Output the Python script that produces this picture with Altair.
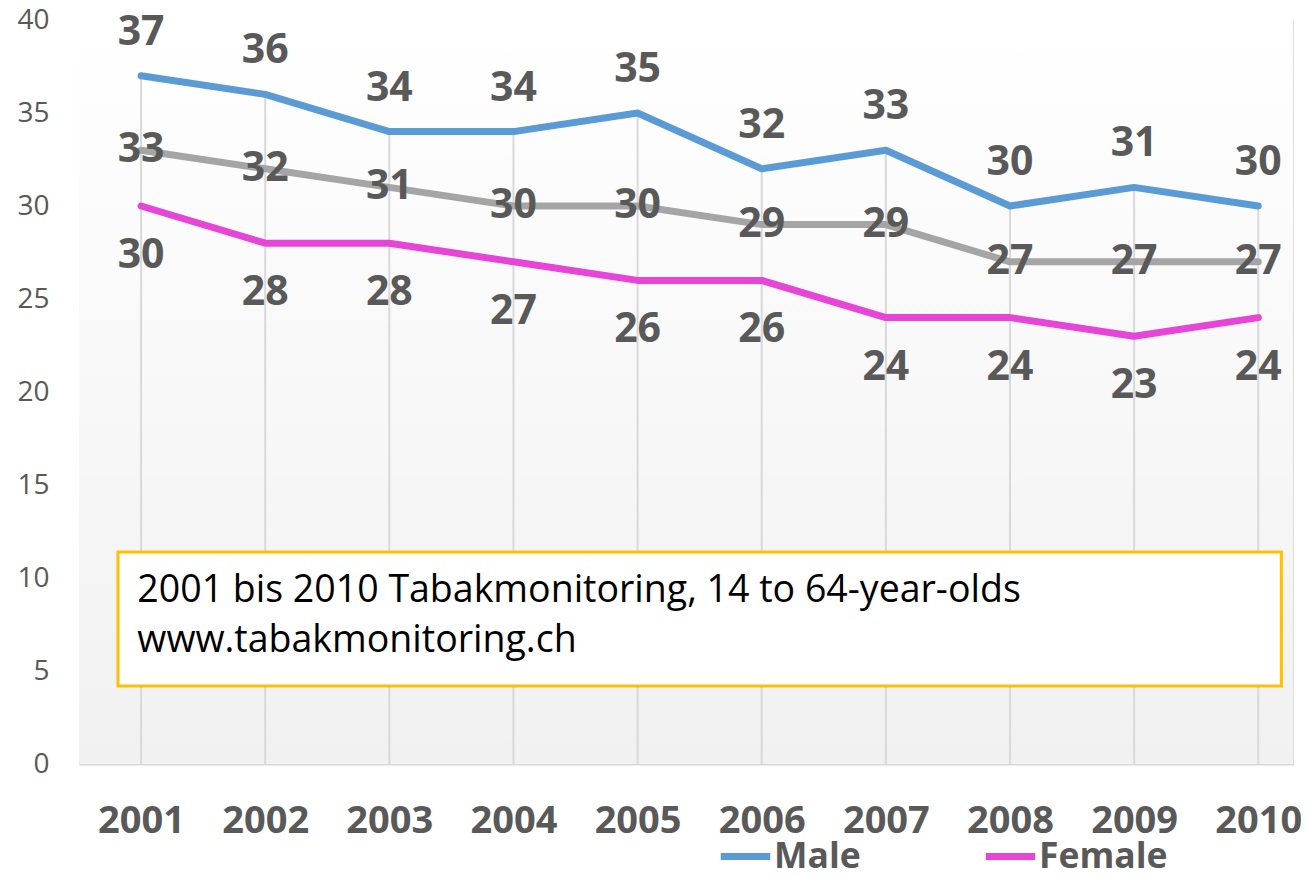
import altair as alt
import pandas as pd

years = [2001, 2002, 2003, 2004, 2005, 2006, 2007, 2008, 2009, 2010]
male = [37, 36, 34, 34, 35, 32, 33, 30, 31, 30]
total = [33, 32, 31, 30, 30, 29, 29, 27, 27, 27]
female = [30, 28, 28, 27, 26, 26, 24, 24, 23, 24]
y_ticks = [0, 5, 10, 15, 20, 25, 30, 35, 40]
note_lines = ["2001 bis 2010 Tabakmonitoring, 14 to 64-year-olds", "www.tabakmonitoring.ch"]

series_names = ["Male", "Female", "Total"]
series_colors = ["#5B9BD5", "#E645D8", "#A5A5A5"]

rows = []
for name, vals in [("Total", total), ("Female", female), ("Male", male)]:
    for yr, v in zip(years, vals):
        rows.append({"year": yr, "value": v, "series": name})
df = pd.DataFrame(rows)

drop = pd.DataFrame({"year": years, "top": [max(a, b, c) for a, b, c in zip(male, total, female)]})

W, H = 1214, 744
XMIN, XMAX = 2000.5, 2010.28

xs = alt.Scale(domain=[XMIN, XMAX], nice=False, zero=False)
ys = alt.Scale(domain=[0, 40], nice=False)

bg = alt.Chart(pd.DataFrame({"k": [0]})).mark_rect(
    fill=alt.Gradient(gradient="linear", x1=0, x2=0, y1=0, y2=1,
                      stops=[alt.GradientStop(color="#ffffff", offset=0),
                             alt.GradientStop(color="#f1f1f1", offset=1)])
).encode(x=alt.value(0), x2=alt.value(W), y=alt.value(0), y2=alt.value(H))

rules = alt.Chart(drop).mark_rule(color="#d9d9d9", strokeWidth=2).encode(
    x=alt.X("year:Q", scale=xs,
            axis=alt.Axis(values=years, format="d", title=None, grid=False, ticks=False,
                          domain=True, domainColor="#d9d9d9", domainWidth=2,
                          labelFont="Open Sans", labelFontWeight="bold", labelFontSize=38,
                          labelColor="#595959", labelPadding=38, labelFlush=False)),
    y=alt.Y("top:Q", scale=ys,
            axis=alt.Axis(values=y_ticks, title=None, grid=False, ticks=False, domain=False,
                          labelFont="Open Sans", labelFontSize=28, labelColor="#595959",
                          labelPadding=30)),
    y2=alt.datum(0),
)

# annotation box (data coordinates)
box_df = pd.DataFrame({"x": [2000.814], "x2": [2010.186], "y": [11.4], "y2": [4.19]})
box = alt.Chart(box_df).mark_rect(fill="white", stroke="#FFC000", strokeWidth=3).encode(
    x=alt.X("x:Q", scale=xs), x2="x2:Q", y=alt.Y("y:Q", scale=ys), y2="y2:Q"
)
note_df = pd.DataFrame({"x": [2000.97, 2000.97], "y": [8.71, 6.02], "t": note_lines})
note = alt.Chart(note_df).mark_text(
    align="left", baseline="alphabetic", font="Open Sans", fontSize=37.5, color="#000000"
).encode(x=alt.X("x:Q", scale=xs), y=alt.Y("y:Q", scale=ys), text="t:N")

lines = alt.Chart(df).mark_line(strokeWidth=7, strokeCap="round", strokeJoin="round").encode(
    x=alt.X("year:Q", scale=xs),
    y=alt.Y("value:Q", scale=ys),
    stroke=alt.Stroke("series:N",
                      scale=alt.Scale(domain=series_names, range=series_colors),
                      legend=alt.Legend(values=["Male", "Female"], title=None, orient="none",
                                        direction="horizontal", legendX=638, legendY=808,
                                        symbolType="stroke", symbolSize=2450,
                                        symbolStrokeWidth=7, labelFont="Open Sans",
                                        labelFontWeight="bold", labelFontSize=35.5,
                                        labelColor="#595959", labelOffset=0,
                                        columnPadding=110, padding=0)),
    detail="series:N",
)

def labels(name, dy):
    return alt.Chart(df[df["series"] == name]).mark_text(
        font="Open Sans", fontWeight="bold", fontSize=41, color="#595959",
        baseline="middle", dy=dy
    ).encode(x=alt.X("year:Q", scale=xs), y=alt.Y("value:Q", scale=ys), text="value:Q")

chart = alt.layer(
    bg, rules, box, note, lines,
    labels("Male", -43), labels("Total", 0), labels("Female", 50)
).properties(
    width=W, height=H,
    autosize=alt.AutoSizeParams(type="none"),
    padding={"left": 71, "top": 12, "right": 8, "bottom": 104},
).configure_view(stroke=None).configure(background="white")

chart.save("out.html", embed_options={"renderer": "svg", "actions": False})
